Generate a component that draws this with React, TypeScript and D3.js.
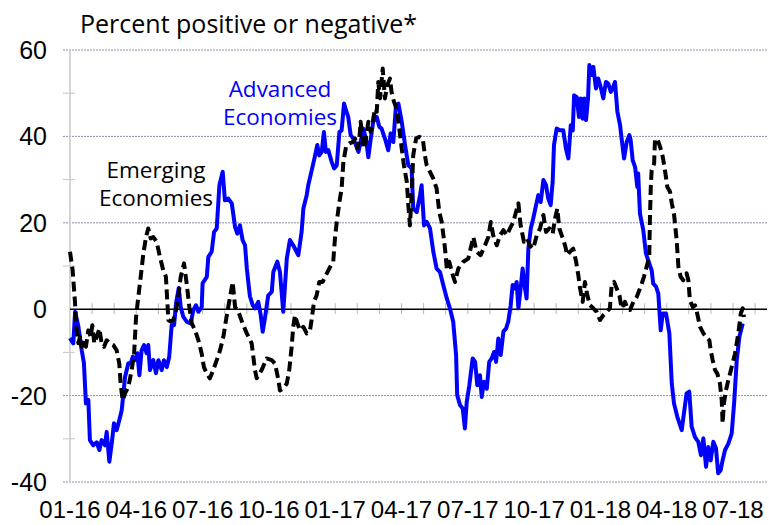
import React from "react";
import * as d3 from "d3";

// x = months since Jan 2016, y = percent
const advanced: [number, number][] = [
  [0, -6.7], [0.15, -7.9], [0.23, -0.6], [0.38, -4], [0.53, -9.5], [0.63, -12.5], [0.72, -21.8], [0.83, -21],
  [0.9, -30.3], [1.05, -31.5], [1.21, -30.8], [1.33, -32.6], [1.43, -30.3], [1.58, -31.5], [1.66, -28.4],
  [1.78, -35.3], [1.89, -31], [1.99, -26.4], [2.11, -28], [2.23, -25.7], [2.34, -23.4], [2.49, -15.7],
  [2.64, -12.5], [2.75, -12.5], [2.84, -11], [2.99, -11.8], [3.05, -10.2], [3.14, -15.3], [3.24, -9.5],
  [3.35, -8.3], [3.47, -10.2], [3.54, -8.3], [3.62, -14.1], [3.77, -11.8], [3.89, -14.8], [4.0, -11.8],
  [4.15, -14.1], [4.25, -11.8], [4.38, -13.4], [4.49, -11], [4.6, -3.7], [4.71, -3.7], [4.8, 1.4],
  [4.92, 4.9], [5.01, 0.5], [5.13, -1.8], [5.28, -2.9], [5.46, -3.3], [5.58, -0.2], [5.7, 0.9], [5.81, -0.6],
  [5.96, 0.5], [6.0, 6], [6.19, 7.5], [6.26, 12.1], [6.41, 13.3], [6.52, 17.9], [6.64, 18.7], [6.76, 28.7],
  [6.91, 31.8], [7.01, 25.2], [7.16, 25.6], [7.32, 24.5], [7.47, 19], [7.57, 17.5], [7.69, 19.4], [7.81, 16],
  [7.92, 14.8], [8.0, 9.5], [8.14, 3], [8.27, 0.9], [8.37, 0.2], [8.52, 1.7], [8.63, -1.4], [8.72, -5.2],
  [8.82, -2.1], [8.97, 3.2], [9.13, 4], [9.2, 8.6], [9.38, 11], [9.5, 8.6], [9.65, -0.6], [9.81, 11.7],
  [9.95, 16], [10.1, 14.8], [10.33, 12.5], [10.48, 17.9], [10.56, 23.3], [10.71, 26.4], [10.78, 28.7],
  [10.94, 32.2], [11.09, 35.6], [11.19, 38], [11.28, 35.6], [11.39, 36.4], [11.49, 41], [11.58, 36.4],
  [11.69, 36.8], [11.84, 34.1], [11.95, 32.6], [12.07, 33.3], [12.19, 41], [12.29, 41.4], [12.4, 47.6],
  [12.49, 46], [12.59, 44.5], [12.7, 40.3], [12.82, 39.5], [12.94, 38], [13.05, 36.4], [13.15, 38.7],
  [13.27, 41.8], [13.39, 39.5], [13.5, 35.2], [13.61, 39.5], [13.72, 43.4], [13.88, 44.5], [14.0, 42.2],
  [14.1, 41.8], [14.25, 39.5], [14.4, 36.8], [14.51, 40.7], [14.63, 38.7], [14.75, 47.2], [14.86, 47.6],
  [15.01, 43.4], [15.16, 38], [15.31, 33.3], [15.46, 32.6], [15.53, 23.3], [15.69, 22.5], [15.84, 26.4],
  [15.91, 28.7], [16.02, 19.4], [16.14, 20.2], [16.29, 18.7], [16.44, 13.3], [16.59, 9.4], [16.74, 8.6],
  [16.89, 5.6], [17.05, 2.5], [17.19, 0.2], [17.34, -2.9], [17.47, -10.6], [17.52, -19.9], [17.65, -22.2],
  [17.77, -23], [17.87, -27.6], [17.95, -21.5], [18.07, -17.6], [18.22, -11.4], [18.33, -12.2],
  [18.43, -17.6], [18.55, -15.3], [18.63, -20.3], [18.73, -16.8], [18.86, -18.4], [18.97, -12.2],
  [19.08, -11.4], [19.19, -9.9], [19.28, -12.2], [19.38, -6.8], [19.49, -10.6], [19.61, -5.2], [19.73, -4.5],
  [19.83, -2.9], [19.94, 0.9], [20.03, 5.6], [20.14, 4.8], [20.21, 6.3], [20.29, 0.2], [20.39, 4.8],
  [20.48, 9.4], [20.59, 4.8], [20.66, 2.5], [20.74, 14], [20.85, 18.7], [20.96, 21], [21.09, 24.1],
  [21.19, 26.4], [21.3, 24.8], [21.42, 29.9], [21.54, 28.7], [21.64, 25.6], [21.75, 24.1], [21.84, 29.5],
  [21.9, 38], [22.02, 41.8], [22.17, 41.4], [22.32, 41.4], [22.44, 37.2], [22.55, 34.9], [22.66, 42.6],
  [22.75, 41.4], [22.81, 49.5], [22.93, 49.1], [23.03, 44.5], [23.11, 48.8], [23.2, 44.1], [23.27, 48.8],
  [23.35, 43.8], [23.44, 48.8], [23.5, 56.5], [23.61, 54.2], [23.68, 56.1], [23.8, 51.1], [23.9, 53.4],
  [24.01, 51.5], [24.13, 48.8], [24.25, 52.6], [24.36, 52.2], [24.47, 50.3], [24.56, 51.1], [24.66, 52.6],
  [24.77, 45.7], [24.89, 42.6], [24.96, 39.5], [25.07, 34.9], [25.19, 38.7], [25.31, 40.3], [25.37, 39.1],
  [25.46, 34.5], [25.57, 32.9], [25.67, 28.3], [25.71, 31.4], [25.79, 22.1], [25.94, 18.3], [26.06, 12.9],
  [26.21, 10.6], [26.32, 9], [26.39, 5.9], [26.52, 5.2], [26.62, 3.6], [26.73, -4.9], [26.82, -1],
  [26.97, -1], [27.12, -5.6], [27.23, -17.2], [27.33, -21.8], [27.48, -24.9], [27.68, -28], [27.78, -24.1],
  [27.9, -19.5], [28.02, -19.1], [28.13, -27.2], [28.28, -29.6], [28.43, -30.7], [28.55, -33.8],
  [28.66, -29.9], [28.78, -36.5], [28.88, -31.9], [28.99, -35], [29.11, -30.7], [29.23, -32.2],
  [29.33, -38], [29.44, -37.3], [29.53, -35], [29.64, -32.6], [29.79, -31.1], [29.94, -28.8],
  [30.05, -21.8], [30.17, -11.8], [30.29, -6.4], [30.44, -3.3],
];

const emerging: [number, number][] = [
  [0, 13.3], [0.12, 9], [0.23, 1.3], [0.3, -4.9], [0.38, -7.9], [0.45, -6.4], [0.53, -8.7], [0.63, -7.2],
  [0.72, -8.7], [0.83, -4.9], [0.94, -6.4], [1.01, -3.7], [1.1, -7.9], [1.21, -6.4], [1.33, -4.5],
  [1.43, -7.9], [1.54, -8.7], [1.66, -7.2], [1.81, -7.9], [1.96, -8.3], [2.11, -9.5], [2.23, -12.6],
  [2.29, -17.2], [2.38, -21.1], [2.49, -19.5], [2.64, -18], [2.79, -14.1], [2.9, -10.3], [2.99, -1.8],
  [3.09, 2.8], [3.2, 7.5], [3.32, 12.9], [3.44, 16.7], [3.54, 18.7], [3.65, 16.4], [3.77, 16.7],
  [3.92, 15.6], [4.07, 12.1], [4.22, 9], [4.34, 7.5], [4.45, -2.5], [4.56, -2.9], [4.67, -2.5], [4.8, -0.2],
  [4.9, 2.8], [5.01, 7.5], [5.16, 10.6], [5.28, 5.9], [5.4, 0.5], [5.51, -3.3], [5.66, -4.9], [5.81, -7.2],
  [5.96, -10.3], [6.06, -13.4], [6.19, -14.9], [6.33, -16], [6.48, -14.1], [6.64, -11.8], [6.79, -9.5],
  [6.94, -6.4], [7.06, -2.5], [7.16, 0.5], [7.27, 3.6], [7.36, 6.3], [7.47, 0.5], [7.62, -0.6],
  [7.81, -3.3], [8.0, -5.6], [8.22, -7.9], [8.37, -14.1], [8.45, -16], [8.67, -14.1], [8.9, -11.4],
  [9.13, -11.8], [9.28, -12.6], [9.43, -16.4], [9.5, -18.8], [9.65, -18.4], [9.81, -17.2], [9.92, -14.1],
  [10.03, -8.7], [10.1, -4.1], [10.18, -1.4], [10.29, -3.3], [10.41, -4.9], [10.56, -4.1], [10.71, -5.6],
  [10.86, -4.9], [10.94, -2.2], [11.04, 1.7], [11.16, 3.2], [11.28, 6.3], [11.43, 6.3], [11.58, 7.9],
  [11.73, 9.4], [11.91, 11], [11.99, 16.4], [12.07, 20.2], [12.19, 24.8], [12.29, 27.9], [12.37, 34.1],
  [12.49, 37.6], [12.64, 38.4], [12.79, 38.7], [12.9, 39.5], [13.0, 37.2], [13.09, 39.1], [13.15, 43.4],
  [13.24, 39.5], [13.3, 37.2], [13.39, 39.5], [13.5, 43.4], [13.61, 41], [13.7, 43.4], [13.8, 46.4],
  [13.88, 45.7], [13.95, 52.6], [14.03, 48.8], [14.15, 55.7], [14.25, 48.8], [14.36, 51.9], [14.48, 53.4],
  [14.55, 50.3], [14.66, 48], [14.78, 46.4], [14.9, 41.8], [15.01, 37.2], [15.11, 33.3], [15.24, 29.5],
  [15.31, 24.1], [15.38, 19.4], [15.46, 26.4], [15.53, 35.6], [15.66, 39.5], [15.81, 39.9], [15.96, 39.5],
  [16.06, 35.6], [16.14, 33.3], [16.29, 31.8], [16.44, 30.2], [16.59, 27.9], [16.71, 22.5], [16.82, 20.2],
  [16.97, 14], [17.05, 9.4], [17.16, 11], [17.32, 7.9], [17.42, 6.3], [17.57, 9.4], [17.8, 11],
  [18.02, 11.7], [18.25, 16.7], [18.4, 13.3], [18.58, 12.5], [18.78, 14.8], [18.93, 16.7], [19.04, 20.2],
  [19.15, 17.1], [19.31, 14.8], [19.46, 17.1], [19.61, 18.3], [19.76, 17.1], [19.91, 18.7], [20.06, 20.2],
  [20.18, 22.5], [20.29, 24.5], [20.39, 19.4], [20.54, 15.6], [20.69, 16.4], [20.81, 14.8], [20.96, 14],
  [21.12, 17.1], [21.27, 18.7], [21.42, 21.8], [21.54, 17.9], [21.69, 18.7], [21.84, 17.5], [21.95, 21],
  [22.05, 23.3], [22.14, 18.7], [22.25, 17.1], [22.4, 14.8], [22.5, 12.5], [22.62, 13.3], [22.77, 14],
  [22.9, 11], [23.0, 7.9], [23.08, 4.8], [23.2, 1.7], [23.3, 6.3], [23.41, 3.2], [23.53, 0.9], [23.68, 0.2],
  [23.83, -0.6], [23.98, -2.5], [24.13, -1.4], [24.29, -0.6], [24.43, 0.2], [24.51, 5.6], [24.62, 6.3],
  [24.74, 4.8], [24.86, 3.2], [24.96, 0.2], [25.11, 1.7], [25.26, -0.2], [25.34, -0.2], [25.49, 1.7],
  [25.64, 2.8], [25.76, 4.4], [25.87, 5.9], [25.97, 7.5], [26.09, 9.8], [26.21, 12.1], [26.24, 20.6],
  [26.28, 28.3], [26.32, 32.2], [26.43, 33.7], [26.47, 39.1], [26.57, 39.5], [26.7, 37.6], [26.82, 35.3],
  [26.92, 32.2], [27.03, 28.3], [27.15, 27.2], [27.23, 24.5], [27.33, 22.1], [27.45, 16], [27.53, 9.8],
  [27.63, 7.5], [27.75, 6.7], [27.9, 8.3], [27.98, 6.7], [28.05, 2.1], [28.18, 0.5], [28.28, 0.9],
  [28.38, -1], [28.51, -4.1], [28.66, -5.6], [28.78, -6.4], [28.93, -7.2], [28.99, -9.5], [29.08, -11.8],
  [29.19, -14.1], [29.29, -14.9], [29.41, -17.2], [29.49, -21.1], [29.53, -26.4], [29.59, -21.8],
  [29.68, -18.8], [29.79, -16.4], [29.94, -13.4], [30.09, -10.3], [30.19, -7.2], [30.28, -4.1],
  [30.35, -1], [30.44, 0.2], [30.5, -1.8],
];

const yTicks = [60, 40, 20, 0, -20, -40];
const yMinorTicks = [50, 30, 10, -10, -30];
const xTickMonths = [0, 3, 6, 9, 12, 15, 18, 21, 24, 27, 30];
const xTickLabels = ["01-16", "04-16", "07-16", "10-16", "01-17", "04-17", "07-17", "10-17", "01-18", "04-18", "07-18"];
const monthTicks = d3.range(1, 32);

const W = 769;
const H = 525;
const left = 70;
const right = 767;
const top = 50;
const bottom = 482;

export default function App() {
  const x = d3.scaleLinear().domain([0, 31.5]).range([left, left + 31.5 * 22.1]);
  const y = d3.scaleLinear().domain([-40, 60]).range([bottom, top]);
  const line = d3
    .line<[number, number]>()
    .x((d) => x(d[0]))
    .y((d) => y(d[1]));

  const axisFont = "'Liberation Sans', Arial, sans-serif";
  const textFont = "'Open Sans', 'Noto Sans', sans-serif";

  return (
    <svg
      width={W}
      height={H}
      viewBox={`0 0 ${W} ${H}`}
      style={{ position: "absolute", left: 0, top: 0, background: "#fff" }}
    >
      {/* gridlines */}
      {yTicks
        .filter((t) => t !== 0)
        .map((t) => (
          <line
            key={"g" + t}
            x1={63}
            x2={right}
            y1={y(t)}
            y2={y(t)}
            stroke="#8a90aa"
            strokeWidth={1}
            strokeDasharray="2,1"
          />
        ))}
      {/* y axis */}
      <line x1={left} x2={left} y1={top} y2={bottom} stroke="#c8c8c8" strokeWidth={1.5} />
      {yMinorTicks.map((t) => (
        <line key={"m" + t} x1={63} x2={75} y1={y(t)} y2={y(t)} stroke="#c8c8c8" strokeWidth={1} />
      ))}
      {/* month ticks on zero line */}
      {monthTicks.map((m) => (
        <line key={"t" + m} x1={x(m)} x2={x(m)} y1={y(0) - 6} y2={y(0) + 5} stroke="#b8b8b8" strokeWidth={1} />
      ))}
      {/* zero line */}
      <line x1={left} x2={right} y1={y(0)} y2={y(0)} stroke="#000" strokeWidth={1.5} />

      {/* series */}
      <path d={line(advanced) || ""} fill="none" stroke="#0000ff" strokeWidth={4} strokeLinejoin="round" />
      <path
        d={line(emerging) || ""}
        fill="none"
        stroke="#000"
        strokeWidth={4}
        strokeDasharray="10,5"
        strokeLinejoin="round"
      />

      {/* y labels */}
      {yTicks.map((t) => (
        <text
          key={"yl" + t}
          x={47}
          y={y(t)}
          dy="0.36em"
          textAnchor="end"
          fontFamily={axisFont}
          fontSize={25}
          fill="#000"
        >
          {t}
        </text>
      ))}
      {/* x labels */}
      {xTickMonths.map((m, i) => (
        <text
          key={"xl" + m}
          x={x(m)}
          y={518}
          textAnchor="middle"
          fontFamily={axisFont}
          fontSize={24}
          fill="#000"
        >
          {xTickLabels[i]}
        </text>
      ))}

      {/* title */}
      <text x={80} y={33} fontFamily={textFont} fontSize={25} fill="#000">
        Percent positive or negative*
      </text>

      {/* series labels */}
      <text x={280} y={97} textAnchor="middle" fontFamily={textFont} fontSize={22.5} fill="#0000ff">
        Advanced
      </text>
      <text x={280} y={125} textAnchor="middle" fontFamily={textFont} fontSize={22.5} fill="#0000ff">
        Economies
      </text>
      <text x={156} y={178} textAnchor="middle" fontFamily={textFont} fontSize={22.5} fill="#000">
        Emerging
      </text>
      <text x={156} y={206} textAnchor="middle" fontFamily={textFont} fontSize={22.5} fill="#000">
        Economies
      </text>
    </svg>
  );
}
